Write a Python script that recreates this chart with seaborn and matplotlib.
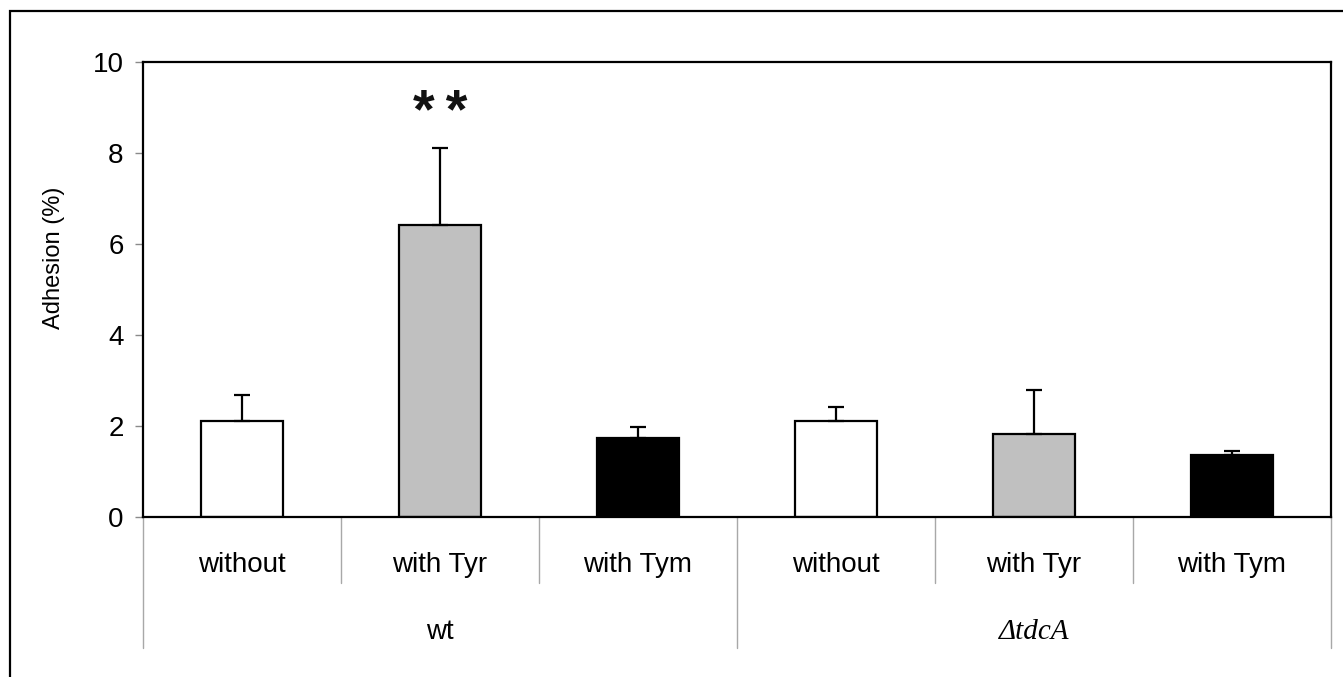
import matplotlib
matplotlib.use("Agg")
import matplotlib.pyplot as plt
import matplotlib.patches as mpatches
import numpy as np
import pandas as pd
import seaborn as sns

# values
strains = ["wt", "\u0394tdcA"]
conditions = ["without", "with Tyr", "with Tym"]
adhesion = [2.11, 6.42, 1.73, 2.11, 1.82, 1.36]
err_up = [0.57, 1.70, 0.25, 0.31, 0.97, 0.09]
cond_colors = {"without": "white", "with Tyr": "#c0c0c0", "with Tym": "black"}

df = pd.DataFrame({
    "strain": np.repeat(strains, len(conditions)),
    "condition": conditions * len(strains),
    "adhesion": adhesion,
})
df["bar"] = df["strain"] + " " + df["condition"]

sns.set_theme(style="white")
plt.rcParams["font.family"] = ["Liberation Sans", "DejaVu Sans"]
plt.rcParams["text.color"] = "black"
plt.rcParams["axes.labelcolor"] = "black"
plt.rcParams["ytick.labelcolor"] = "black"

fig = plt.figure(figsize=(13.43, 6.77), dpi=100)
ax = fig.add_axes([143 / 1343, 160 / 677, 1188 / 1343, 455 / 677])

sns.barplot(data=df, x="bar", y="adhesion", hue="condition", palette=cond_colors,
            dodge=False, legend=False, width=0.415, edgecolor="black",
            linewidth=1.6, errorbar=None, ax=ax)
xpos = np.arange(len(df))
ax.errorbar(xpos, df["adhesion"], yerr=[np.zeros(len(df)), err_up], fmt="none",
            ecolor="black", elinewidth=1.6, capsize=5.6, capthick=1.6, zorder=3)

ax.set_xlim(-0.5, len(df) - 0.5)
ax.set_ylim(0, 10)
ax.set_yticks([0, 2, 4, 6, 8, 10])
ax.tick_params(axis="y", left=True, length=6, width=1, color="#8a8a8a",
               labelsize=20, pad=8)
ax.set_xticks([])
ax.set_xlabel("")
ax.set_ylabel("Adhesion (%)", fontsize=17)
ax.yaxis.set_label_coords(-0.066, 0.57)
for sp in ax.spines.values():
    sp.set_visible(True)
    sp.set_color("black")
    sp.set_linewidth(1.6)

# significance mark
ax.text(1, 8.85, "*\u2009*", ha="center", va="center", fontsize=40,
        fontweight="bold", color="#111111")

# category table under the axis
trans = ax.get_xaxis_transform()
n_cond = len(conditions)
for i in range(len(df) + 1):
    bottom = -0.288 if i % n_cond == 0 else -0.145
    ax.plot([i - 0.5, i - 0.5], [0, bottom], color="#a8a8a8", lw=1,
            transform=trans, clip_on=False)
for i, row in df.iterrows():
    ax.text(i, -0.105, row["condition"], transform=trans, ha="center",
            va="center", fontsize=20)
for g, s in enumerate(strains):
    mid = g * n_cond + (n_cond - 1) / 2
    if g == 0:
        ax.text(mid, -0.253, s, transform=trans, ha="center", va="center",
                fontsize=20)
    else:
        ax.text(mid, -0.253, s, transform=trans, ha="center", va="center",
                fontsize=21, family="Liberation Serif", style="italic")

# outer frame of the original figure
fig.add_artist(mpatches.Rectangle((10 / 1343, -0.1), 1.2, 0.1 + 666 / 677,
                                  transform=fig.transFigure, fill=False,
                                  edgecolor="black", lw=1.6))

fig.savefig("out.png", dpi=100)
